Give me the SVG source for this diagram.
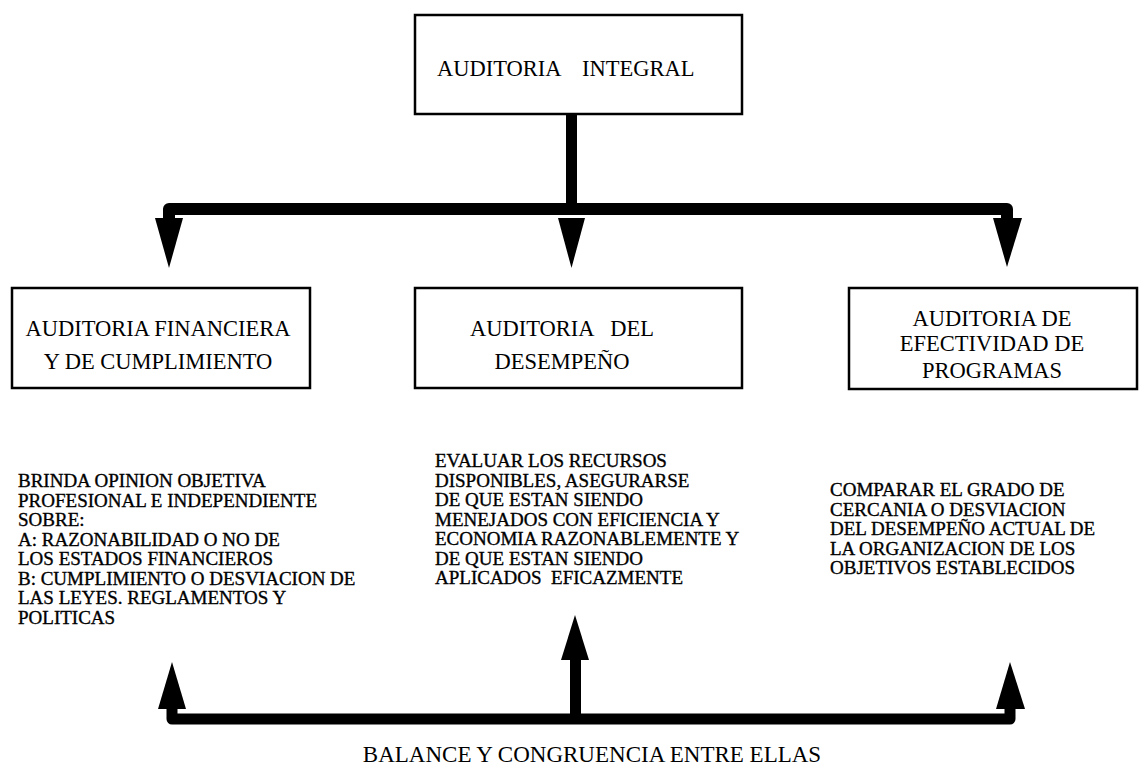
<svg xmlns="http://www.w3.org/2000/svg" width="1140" height="773" viewBox="0 0 1140 773">
<style>
.box{fill:#fff;stroke:#000;stroke-width:2.5}
.bt{font-family:"Liberation Serif","Times New Roman",serif;font-size:22.5px;fill:#000;white-space:pre}
.tx{font-family:"Liberation Serif","Times New Roman",serif;font-size:19px;fill:#000;stroke:#000;stroke-width:0.35;white-space:pre}
.bar{fill:none;stroke:#000;stroke-width:12;stroke-linejoin:round}
.head{fill:#000}
</style>
<rect width="1140" height="773" fill="#fff"/>
<g id="connectors">
  <rect x="566" y="114" width="11" height="96" fill="#000"/>
  <path class="bar" d="M169,222 L169,209 L1007,209 L1007,222"/>
  <polygon class="head" points="155,218 183,218 169,268"/>
  <polygon class="head" points="558,218 585,218 571.5,268"/>
  <polygon class="head" points="993,218 1022,218 1007,267"/>
  <path class="bar" style="stroke-width:11" d="M172,705 L172,719 L1010,719 L1010,705"/>
  <rect x="570" y="655" width="11" height="62" fill="#000"/>
  <polygon class="head" points="158,709 186,709 172,662"/>
  <polygon class="head" points="561,660 589,660 575,615"/>
  <polygon class="head" points="996,709 1025,709 1010,662"/>
</g>
<g id="node-integral">
  <rect class="box" x="415" y="15" width="327" height="99"/>
  <text class="bt" x="437" y="76">AUDITORIA</text>
  <text class="bt" x="582" y="76">INTEGRAL</text>
</g>
<g id="node-financiera">
  <rect class="box" x="12" y="288" width="298" height="100"/>
  <text class="bt" x="158" y="336" text-anchor="middle">AUDITORIA FINANCIERA</text>
  <text class="bt" x="158" y="369" text-anchor="middle">Y DE CUMPLIMIENTO</text>
</g>
<g id="node-desempeno">
  <rect class="box" x="415" y="288" width="327" height="100"/>
  <text class="bt" x="562" y="336" text-anchor="middle">AUDITORIA   DEL</text>
  <text class="bt" x="562" y="369" text-anchor="middle">DESEMPEÑO</text>
</g>
<g id="node-efectividad">
  <rect class="box" x="849" y="288" width="288" height="101"/>
  <text class="bt" x="992" y="326" text-anchor="middle">AUDITORIA DE</text>
  <text class="bt" x="992" y="351" text-anchor="middle">EFECTIVIDAD DE</text>
  <text class="bt" x="992" y="378" text-anchor="middle">PROGRAMAS</text>
</g>
<g id="desc-financiera">
  <text class="tx" x="18" y="487">BRINDA OPINION OBJETIVA</text>
  <text class="tx" x="18" y="506.5">PROFESIONAL E INDEPENDIENTE</text>
  <text class="tx" x="18" y="526">SOBRE:</text>
  <text class="tx" x="18" y="545.5">A: RAZONABILIDAD O NO DE</text>
  <text class="tx" x="18" y="565">LOS ESTADOS FINANCIEROS</text>
  <text class="tx" x="18" y="584.5">B: CUMPLIMIENTO O DESVIACION DE</text>
  <text class="tx" x="18" y="604">LAS LEYES. REGLAMENTOS Y</text>
  <text class="tx" x="18" y="623.5">POLITICAS</text>
</g>
<g id="desc-desempeno">
  <text class="tx" x="435" y="467">EVALUAR LOS RECURSOS</text>
  <text class="tx" x="435" y="486.5">DISPONIBLES, ASEGURARSE</text>
  <text class="tx" x="435" y="506">DE QUE ESTAN SIENDO</text>
  <text class="tx" x="435" y="525.5">MENEJADOS CON EFICIENCIA Y</text>
  <text class="tx" x="435" y="545">ECONOMIA RAZONABLEMENTE Y</text>
  <text class="tx" x="435" y="564.5">DE QUE ESTAN SIENDO</text>
  <text class="tx" x="435" y="584">APLICADOS  EFICAZMENTE</text>
</g>
<g id="desc-efectividad">
  <text class="tx" x="830" y="496">COMPARAR EL GRADO DE</text>
  <text class="tx" x="830" y="515.5">CERCANIA O DESVIACION</text>
  <text class="tx" x="830" y="535">DEL DESEMPEÑO ACTUAL DE</text>
  <text class="tx" x="830" y="554.5">LA ORGANIZACION DE LOS</text>
  <text class="tx" x="830" y="574">OBJETIVOS ESTABLECIDOS</text>
</g>
<g id="footer">
  <text class="bt" style="font-size:23px" x="592" y="762" text-anchor="middle">BALANCE Y CONGRUENCIA ENTRE ELLAS</text>
</g>
</svg>
